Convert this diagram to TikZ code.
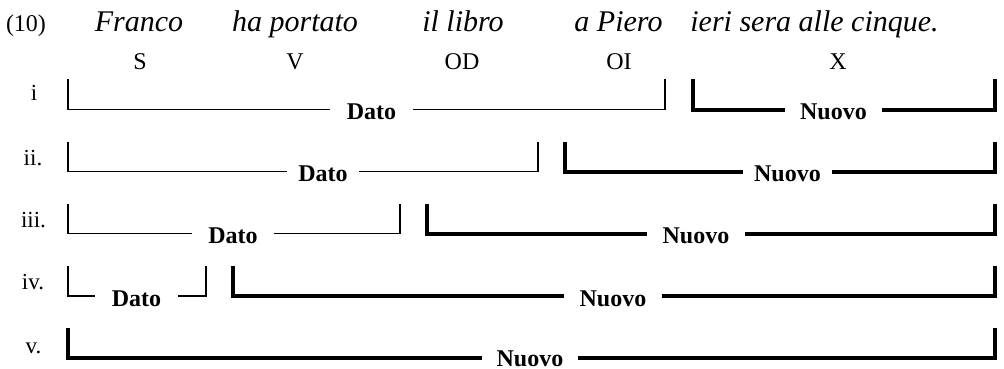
\documentclass[tikz,border=0pt]{standalone}
\usepackage{fontspec}
\setmainfont{Liberation Serif}
\begin{document}
\begin{tikzpicture}[x=1pt,y=-1pt,
  word/.style={anchor=base,inner sep=0pt,font=\fontsize{30}{36}\selectfont\itshape},
  cat/.style={anchor=base,inner sep=0pt,font=\fontsize{24}{28}\selectfont},
  rowlab/.style={anchor=base,inner sep=0pt,font=\fontsize{23}{28}\selectfont},
  brlab/.style={inner ysep=0pt,text height=20pt,text depth=0pt,font=\fontsize{24}{28}\selectfont\bfseries},
  thinbr/.style={line width=1.6pt,line join=miter},
  thickbr/.style={line width=4pt,line join=miter}]
\useasboundingbox (0,0) rectangle (1004,369);
% header
\node[rowlab,font=\fontsize{24}{28}\selectfont] (num) at (26,32) {(10)};
\node[word] (w1) at (139,32) {Franco};
\node[word] (w2) at (295,32) {ha portato};
\node[word] (w3) at (463,32) {il libro};
\node[word] (w4) at (618.5,32) {a Piero};
\node[word] (w5) at (814.5,32) {ieri sera alle cinque.};
\node[cat] (c1) at (140,70) {S};
\node[cat] (c2) at (295,70) {V};
\node[cat] (c3) at (462,70) {OD};
\node[cat] (c4) at (619,70) {OI};
\node[cat] (c5) at (838,70) {X};
% row labels
\node[rowlab] (l1) at (34,100) {i};
\node[rowlab] (l2) at (33,165) {ii.};
\node[rowlab] (l3) at (33.5,227) {iii.};
\node[rowlab] (l4) at (33,289) {iv.};
\node[rowlab] (l5) at (33.5,353) {v.};
% row i
\coordinate (r1dL) at (68,79.5); \coordinate (r1dR) at (665,79.5);
\node[brlab,inner xsep=16.8pt] (r1d) at (371.5,109.5) {Dato};
\draw[thinbr] (r1dL) |- (r1d.west); \draw[thinbr] (r1d.east) -| (r1dR);
\coordinate (r1nL) at (693,79.5); \coordinate (r1nR) at (995,79.5);
\node[brlab,inner xsep=15.2pt] (r1n) at (833.5,109.5) {Nuovo};
\draw[thickbr] (r1nL) |- (r1n.west); \draw[thickbr] (r1n.east) -| (r1nR);
% row ii
\coordinate (r2dL) at (68,141.5); \coordinate (r2dR) at (538,141.5);
\node[brlab,inner xsep=11.3pt] (r2d) at (323,171.5) {Dato};
\draw[thinbr] (r2dL) |- (r2d.west); \draw[thinbr] (r2d.east) -| (r2dR);
\coordinate (r2nL) at (565,141.5); \coordinate (r2nR) at (995,141.5);
\node[brlab,inner xsep=11.2pt] (r2n) at (787.5,171.5) {Nuovo};
\draw[thickbr] (r2nL) |- (r2n.west); \draw[thickbr] (r2n.east) -| (r2nR);
% row iii
\coordinate (r3dL) at (68,203.5); \coordinate (r3dR) at (400,203.5);
\node[brlab,inner xsep=16.3pt] (r3d) at (233,233.5) {Dato};
\draw[thinbr] (r3dL) |- (r3d.west); \draw[thinbr] (r3d.east) -| (r3dR);
\coordinate (r3nL) at (427,203.5); \coordinate (r3nR) at (995,203.5);
\node[brlab,inner xsep=15.6pt] (r3n) at (696,233.5) {Nuovo};
\draw[thickbr] (r3nL) |- (r3n.west); \draw[thickbr] (r3n.east) -| (r3nR);
% row iv
\coordinate (r4dL) at (68,266); \coordinate (r4dR) at (206,266);
\node[brlab,inner xsep=16.8pt] (r4d) at (136.5,296) {Dato};
\draw[thinbr] (r4dL) |- (r4d.west); \draw[thinbr] (r4d.east) -| (r4dR);
\coordinate (r4nL) at (233,266); \coordinate (r4nR) at (995,266);
\node[brlab,inner xsep=15.6pt] (r4n) at (613,296) {Nuovo};
\draw[thickbr] (r4nL) |- (r4n.west); \draw[thickbr] (r4n.east) -| (r4nR);
% row v
\coordinate (r5nL) at (68,328); \coordinate (r5nR) at (995,328);
\node[brlab,text height=16pt,inner xsep=14.6pt] (r5n) at (530,358) {Nuovo};
\draw[thickbr] (r5nL) |- (r5n.west); \draw[thickbr] (r5n.east) -| (r5nR);
\end{tikzpicture}
\end{document}
